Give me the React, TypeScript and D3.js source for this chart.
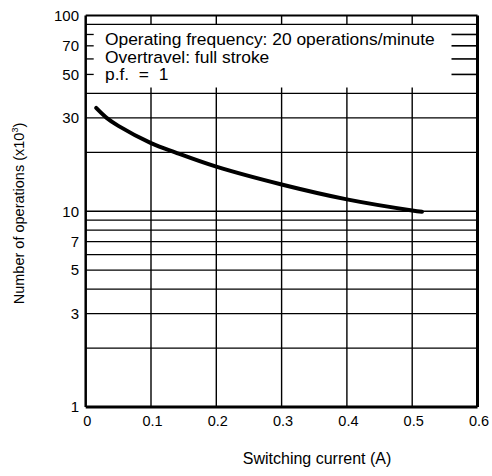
import React from "react";
import * as d3 from "d3";

const currentA = [0.016, 0.032, 0.05, 0.1, 0.137, 0.2, 0.3, 0.4, 0.5, 0.515];
const operationsK = [33.7, 30, 27.3, 22.3, 20, 16.9, 13.7, 11.5, 10.1, 9.95];

const xTicks = [0, 0.1, 0.2, 0.3, 0.4, 0.5, 0.6];
const xTickLabels = ["0", "0.1", "0.2", "0.3", "0.4", "0.5", "0.6"];
const yTickValues = [1, 3, 5, 7, 10, 30, 50, 70, 100];
const yGridFull = [2, 3, 4, 5, 6, 7, 8, 9, 10, 20, 30, 40, 90];
const yBoxTicks = [50, 60, 70, 80];
const noteLines = [
  "Operating frequency: 20 operations/minute",
  "Overtravel: full stroke",
  "p.f.  =  1",
];

const W = 492;
const H = 476;
const L = 85.7;
const R = 477.5;
const T = 15.5;
const B = 407;
const FONT = "'Liberation Sans', Arial, Helvetica, sans-serif";

export default function App() {
  const x = d3.scaleLinear().domain([0, 0.6]).range([L, R]);
  const y = d3.scaleLog().domain([1, 100]).range([B, T]);
  const pts = currentA.map((c, i) => [c, operationsK[i]] as [number, number]);
  const line = d3
    .line<[number, number]>()
    .x((d) => x(d[0]))
    .y((d) => y(d[1]))
    .curve(d3.curveCatmullRom.alpha(0.5));

  const y90 = y(90);
  const y40 = y(40);

  return (
    <svg
      width={W}
      height={H}
      style={{ position: "absolute", left: 0, top: 0, background: "#fff" }}
      fontFamily={FONT}
    >
      <rect x={0} y={0} width={W} height={H} fill="#fff" />
      {xTicks.slice(1, -1).map((t) => (
        <g key={"v" + t}>
          <line x1={x(t)} x2={x(t)} y1={T} y2={y90} stroke="#000" strokeWidth={1.4} />
          <line x1={x(t)} x2={x(t)} y1={y40 - 6} y2={B} stroke="#000" strokeWidth={1.4} />
        </g>
      ))}
      {yGridFull.map((v) => (
        <line key={"h" + v} x1={L} x2={R} y1={y(v)} y2={y(v)} stroke="#000" strokeWidth={1.3} />
      ))}
      {yBoxTicks.map((v) => (
        <g key={"bt" + v}>
          <line x1={L} x2={L + 8} y1={y(v)} y2={y(v)} stroke="#000" strokeWidth={1.3} />
          <line x1={R - 26} x2={R} y1={y(v)} y2={y(v)} stroke="#000" strokeWidth={1.6} />
        </g>
      ))}
      <line x1={L} x2={R} y1={T} y2={T} stroke="#000" strokeWidth={2} />
      <line x1={L} x2={L} y1={T} y2={B} stroke="#000" strokeWidth={2.5} />
      <line x1={R} x2={R} y1={T} y2={B} stroke="#000" strokeWidth={3} />
      <line x1={L} x2={R} y1={B} y2={B} stroke="#000" strokeWidth={3} />
      <path d={line(pts) || ""} fill="none" stroke="#000" strokeWidth={4} strokeLinecap="round" />
      {noteLines.map((s, i) => (
        <text key={s} x={105} y={45 + i * 17.5} fontSize={17.4} fill="#000" style={{ whiteSpace: "pre" }}>
          {s}
        </text>
      ))}
      {yTickValues.map((v) => (
        <text key={"yl" + v} x={79} y={y(v) + 5.3} fontSize={15} textAnchor="end" fill="#000">
          {v}
        </text>
      ))}
      {xTicks.map((t, i) => (
        <text key={"xl" + t} x={x(t) + 1.5} y={425.5} fontSize={14.5} textAnchor="middle" fill="#000">
          {xTickLabels[i]}
        </text>
      ))}
      <text
        transform={`translate(24,213.5) rotate(-90)`}
        fontSize={14.5}
        textAnchor="middle"
        fill="#000"
      >
        Number of operations (x10
        <tspan fontSize={9} dy={-6}>3</tspan>
        <tspan dy={6}>)</tspan>
      </text>
      <text x={317} y={464} fontSize={16} textAnchor="middle" fill="#000">
        Switching current (A)
      </text>
    </svg>
  );
}
